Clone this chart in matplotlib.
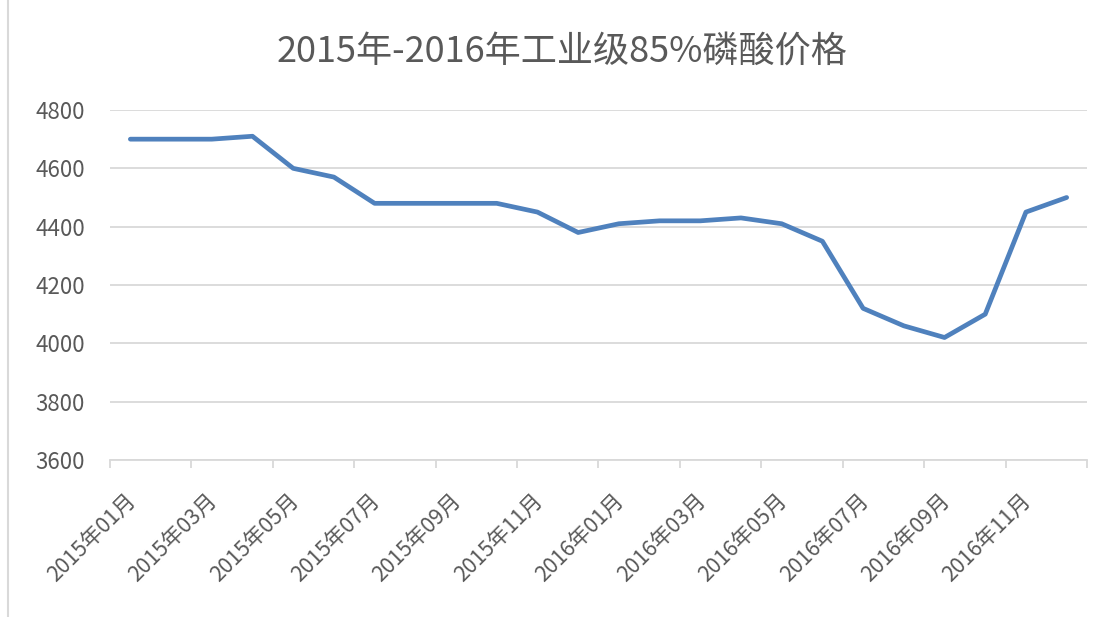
import matplotlib.pyplot as plt
from matplotlib.lines import Line2D
from matplotlib.transforms import ScaledTranslation

plt.rcParams['font.family'] = ['Noto Sans CJK SC', 'DejaVu Sans']

months = [f"2015年{m:02d}月" for m in range(1, 13)] + [f"2016年{m:02d}月" for m in range(1, 13)]
prices = [4700, 4700, 4700, 4710, 4600, 4570, 4480, 4480, 4480, 4480, 4450, 4380,
          4410, 4420, 4420, 4430, 4410, 4350, 4120, 4060, 4020, 4100, 4450, 4500]
title = "2015年-2016年工业级85%磷酸价格"

fig = plt.figure(figsize=(11.1, 6.17), dpi=100)
ax = fig.add_axes([110 / 1110, 1 - 460 / 617, 977 / 1110, 350 / 617])

x = list(range(len(months)))
ax.plot(x, prices, color="#4F81BD", linewidth=3.4, solid_capstyle="round", solid_joinstyle="round")

ax.set_xlim(-0.5, len(months) - 0.5)
ax.set_ylim(3600, 4800)
ax.set_yticks(range(3600, 4801, 200))
ax.yaxis.grid(True, color="#D9D9D9", linewidth=1.3)
ax.set_axisbelow(True)
ax.tick_params(axis="y", length=0, pad=18, labelsize=16, labelcolor="#595959")

# tick marks between category pairs, labels on every other month
ax.set_xticks([i - 0.5 for i in range(0, len(months) + 1, 2)])
ax.set_xticklabels([])
ax.tick_params(axis="x", which="major", length=6, width=1.3, color="#D9D9D9", direction="out")
ax.set_xticks(x[::2], minor=True)
ax.set_xticklabels(months[::2], minor=True, rotation=45, ha="right", va="top",
                   rotation_mode="anchor", fontsize=15.5, color="#595959")
ax.tick_params(axis="x", which="minor", length=0, pad=21)
shift = ScaledTranslation(-6 / 100, 0, fig.dpi_scale_trans)
for lbl in ax.get_xticklabels(minor=True):
    lbl.set_transform(lbl.get_transform() + shift)

for side in ["top", "right", "left"]:
    ax.spines[side].set_visible(False)
ax.spines["bottom"].set_color("#D9D9D9")
ax.spines["bottom"].set_linewidth(1.3)

fig.text(562 / 1110, 1 - 52 / 617, title, ha="center", va="center", fontsize=26, color="#595959")

# left edge of the chart border
fig.add_artist(Line2D([8 / 1110, 8 / 1110], [0, 1], transform=fig.transFigure,
                      color="#D9D9D9", linewidth=1.5))

fig.savefig("out.png", dpi=100)
